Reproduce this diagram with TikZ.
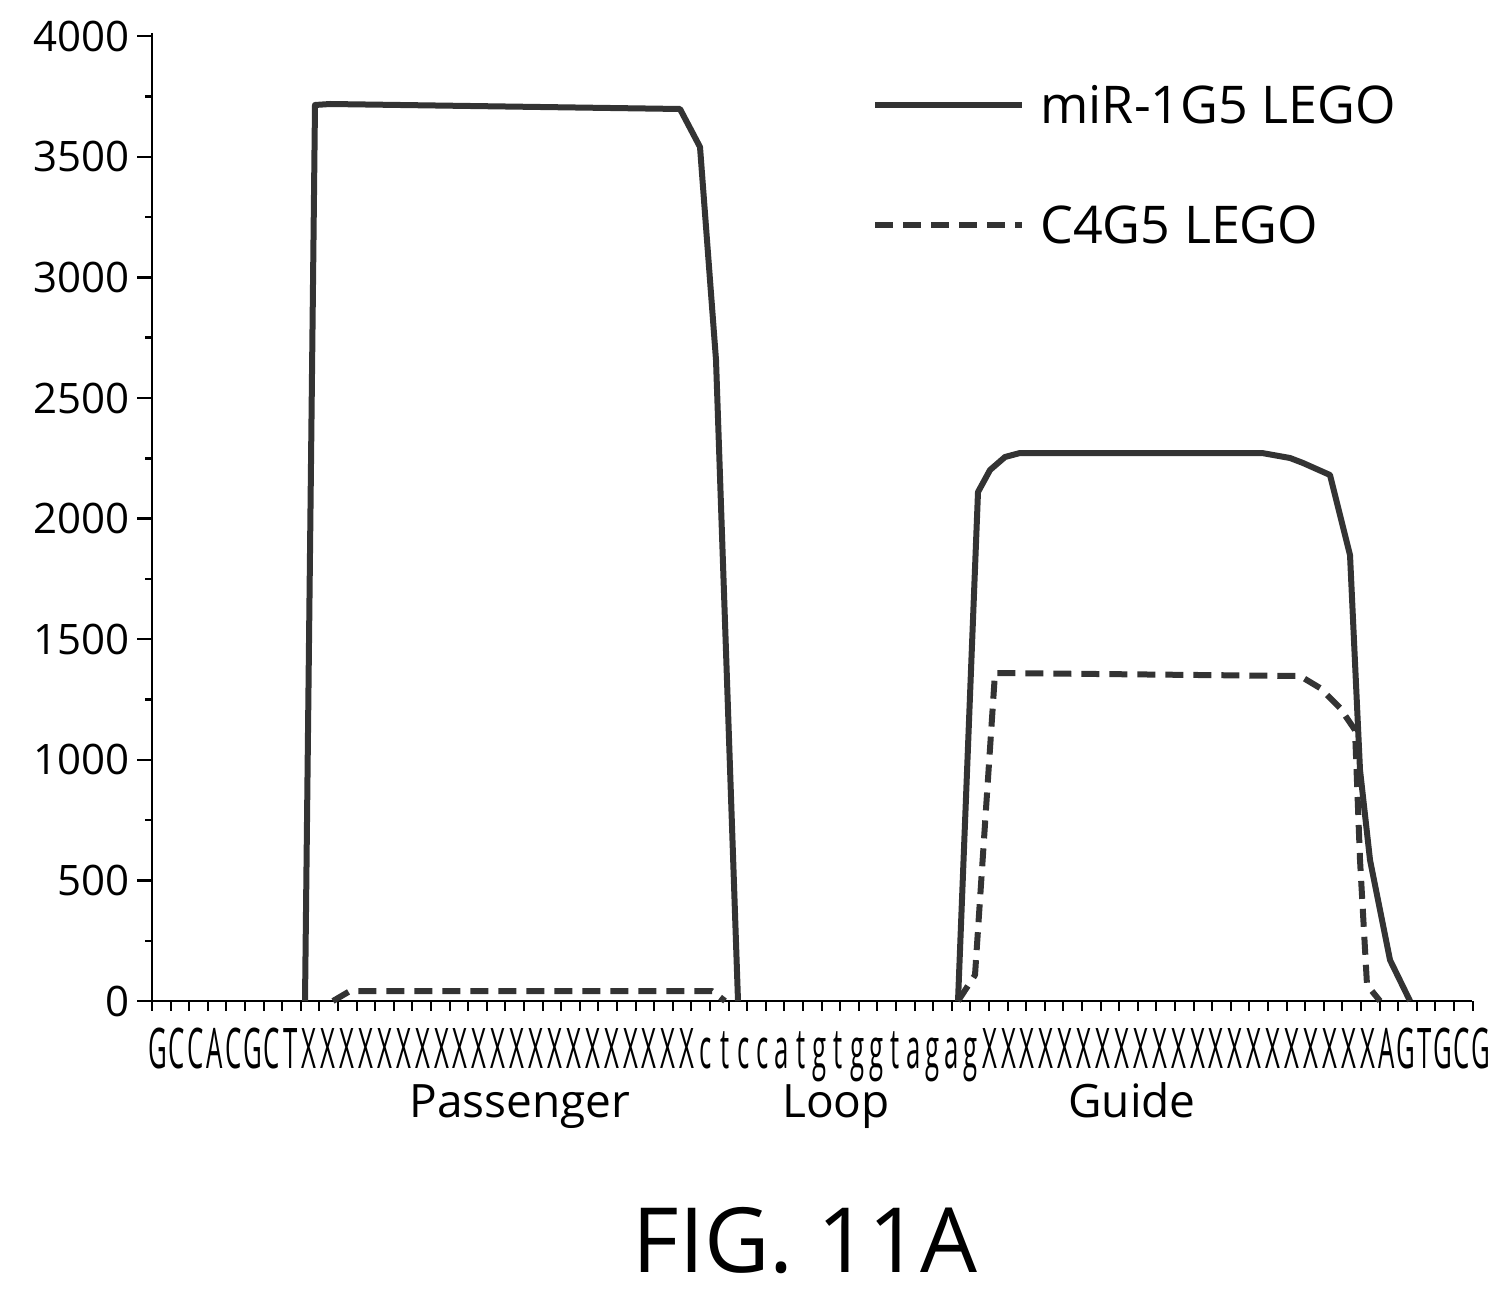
\documentclass[tikz,border=0pt]{standalone}
\usepackage{fontspec}
\setmainfont{Open Sans}
\begin{document}
\begin{tikzpicture}[x=0.5pt,y=-0.5pt,
  curve/.style={line width=3pt,draw=black!80,line join=round},
  dcurve/.style={curve,dash pattern=on 9pt off 5pt},
  ax/.style={line width=1.2pt},
  seq/.style={font=\fontsize{28}{28}\selectfont,xscale=0.46,anchor=base,inner sep=0},
  lab/.style={font=\fontsize{23}{23}\selectfont,anchor=base,inner sep=0}]
\useasboundingbox (0,0) rectangle (1493,1299);
% axes
\coordinate (O) at (152,1001);
\coordinate (T) at (152,33);
\coordinate (R) at (1472,1001);
\draw[ax] (T) -- (O) -- (R);
\foreach \v [count=\k from 0] in {0,500,1000,1500,2000,2500,3000,3500,4000}{
  \pgfmathsetmacro\yy{1001-\k*120.6}
  \draw[ax] (137,\yy) -- (152,\yy);
  \node[font=\fontsize{21}{21}\selectfont,anchor=east,inner sep=0] at (130,\yy) {\v};
}
\foreach \k in {0,...,7}{
  \pgfmathsetmacro\yy{1001-\k*120.6-60.3}
  \draw[ax] (145,\yy) -- (152,\yy);
}
\foreach \i in {0,...,71}{
  \draw[line width=1pt] (152+\i*18.6,1001) -- (152+\i*18.6,1011);
}
% sequence
\foreach \c [count=\n from 0] in {G,C,C,A,C,G,C,T,X,X,X,X,X,X,X,X,X,X,X,X,X,X,X,X,X,X,X,X,X,c,t,c,c,a,t,g,t,g,g,t,a,g,a,g,X,X,X,X,X,X,X,X,X,X,X,X,X,X,X,X,X,X,X,X,X,A,G,T,G,C,G}{
  \node[seq] at (158+\n*18.9,1068) {\c};
}
\node[lab] (p) at (520,1117) {Passenger};
\node[lab] (l) at (836,1117) {Loop};
\node[lab] (g) at (1132,1117) {Guide};
\node[font=\fontsize{45}{45}\selectfont,anchor=base,inner sep=0] (f) at (805,1272) {FIG. 11A};
% curves
\draw[curve] (305,1001) -- (315,105) -- (330,104) -- (680,109) -- (700,147) -- (716,360) -- (738,1001);
\draw[curve] (958,1001) -- (978,492) -- (990,470) -- (1005,457) -- (1020,453) -- (1262,453) -- (1290,458) -- (1303,463) -- (1330,475) -- (1350,555) -- (1360,770) -- (1370,860) -- (1390,960) -- (1410,1001);
\draw[dcurve] (333,1001) -- (350,991) -- (712,991) -- (725,1001);
\draw[dcurve] (958,1001) -- (975,975) -- (995,673) -- (1300,676) -- (1320,688) -- (1340,708) -- (1355,730) -- (1360,860) -- (1367,985) -- (1380,1001);
% legend
\coordinate (a1) at (875,105); \coordinate (a2) at (1022,105);
\coordinate (b1) at (875,225); \coordinate (b2) at (1022,225);
\draw[curve] (a1) -- (a2);
\draw[dcurve] (b1) -- (b2);
\node[font=\fontsize{26}{26}\selectfont,anchor=west,inner sep=0] (m) at (1040,105) {miR-1G5 LEGO};
\node[font=\fontsize{26}{26}\selectfont,anchor=west,inner sep=0] (c) at (1040,225) {C4G5 LEGO};
\end{tikzpicture}
\end{document}
